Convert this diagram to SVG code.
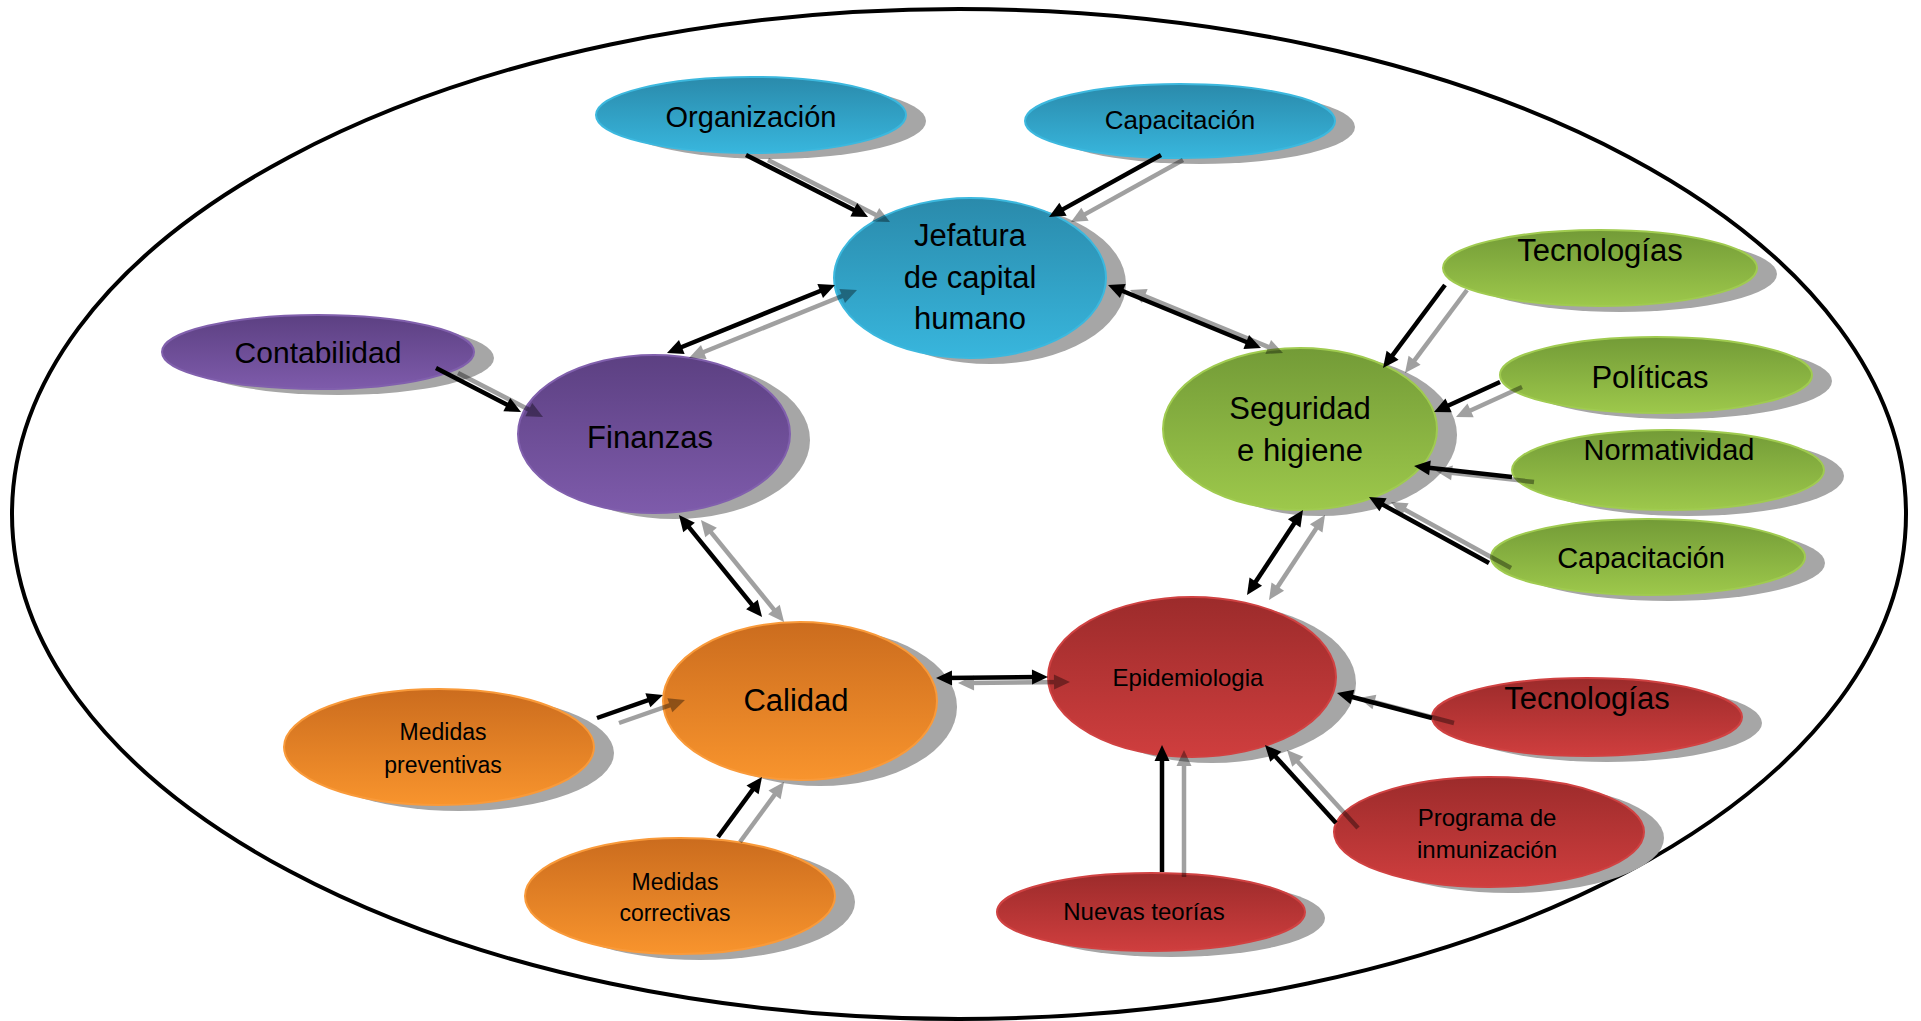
<svg xmlns="http://www.w3.org/2000/svg" xmlns:xlink="http://www.w3.org/1999/xlink" width="1921" height="1021" viewBox="0 0 1921 1021">
  <style>
    .shadow { fill: #a6a6a6; }
    .lbl { font-family: "Liberation Sans", Arial, sans-serif; fill: #000; text-anchor: middle; }
    .blue { fill: url(#gBlue); stroke: #3cb8de; stroke-width: 2; }
    .purple { fill: url(#gPurple); stroke: #8160ad; stroke-width: 2; }
    .green { fill: url(#gGreen); stroke: #a0cb50; stroke-width: 2; }
    .orange { fill: url(#gOrange); stroke: #f99a3a; stroke-width: 2; }
    .red { fill: url(#gRed); stroke: #d04242; stroke-width: 2; }
    .link { fill: none; stroke: #000; stroke-width: 4.5; }
    .one { marker-end: url(#head); }
    .two { marker-start: url(#head); marker-end: url(#head); }
  </style>
  <defs>
    <linearGradient id="gBlue" x1="0" y1="0" x2="0" y2="1">
      <stop offset="0" stop-color="#2a8aab"/>
      <stop offset="1" stop-color="#38b6dd"/>
    </linearGradient>
    <linearGradient id="gPurple" x1="0" y1="0" x2="0" y2="1">
      <stop offset="0" stop-color="#5c4082"/>
      <stop offset="1" stop-color="#7e5bab"/>
    </linearGradient>
    <linearGradient id="gGreen" x1="0" y1="0" x2="0" y2="1">
      <stop offset="0" stop-color="#739b37"/>
      <stop offset="1" stop-color="#9dc84b"/>
    </linearGradient>
    <linearGradient id="gOrange" x1="0" y1="0" x2="0" y2="1">
      <stop offset="0" stop-color="#cb6c1e"/>
      <stop offset="1" stop-color="#f8942d"/>
    </linearGradient>
    <linearGradient id="gRed" x1="0" y1="0" x2="0" y2="1">
      <stop offset="0" stop-color="#9c2b2b"/>
      <stop offset="1" stop-color="#cf3e3e"/>
    </linearGradient>
    <marker id="head" markerUnits="userSpaceOnUse" markerWidth="16" markerHeight="15" refX="8" refY="7.5" orient="auto-start-reverse" overflow="visible">
      <path d="M0,0 L16,7.5 L0,15 Z" fill="#000"/>
    </marker>
  </defs>

  <rect width="1921" height="1021" fill="#fff"/>

  <!-- outer boundary -->
  <ellipse id="frame" cx="959" cy="514" rx="947" ry="505" fill="none" stroke="#000" stroke-width="4"/>

  <!-- top: human capital branch -->
  <g id="organizacion">
    <ellipse class="shadow" cx="771" cy="121" rx="155" ry="38"/>
    <ellipse class="blue" cx="751" cy="115" rx="155" ry="38"/>
    <text class="lbl" x="751" y="127" font-size="29">Organización</text>
  </g>
  <g id="capacitacion-top">
    <ellipse class="shadow" cx="1200" cy="127" rx="155" ry="37"/>
    <ellipse class="blue" cx="1180" cy="121" rx="155" ry="37"/>
    <text class="lbl" x="1180" y="129" font-size="26">Capacitación</text>
  </g>
  <g id="jefatura">
    <ellipse class="shadow" cx="990" cy="284" rx="136" ry="80"/>
    <ellipse class="blue" cx="970" cy="278" rx="136" ry="80"/>
    <text class="lbl" x="970" y="246" font-size="31">Jefatura</text>
    <text class="lbl" x="970" y="288" font-size="31">de capital</text>
    <text class="lbl" x="970" y="329" font-size="31">humano</text>
  </g>

  <!-- left: finance branch -->
  <g id="contabilidad">
    <ellipse class="shadow" cx="338" cy="358" rx="156" ry="37"/>
    <ellipse class="purple" cx="318" cy="352" rx="156" ry="37"/>
    <text class="lbl" x="318" y="363" font-size="30">Contabilidad</text>
  </g>
  <g id="finanzas">
    <ellipse class="shadow" cx="674" cy="440" rx="136" ry="79"/>
    <ellipse class="purple" cx="654" cy="434" rx="136" ry="79"/>
    <text class="lbl" x="650" y="448" font-size="31">Finanzas</text>
  </g>

  <!-- right: safety branch -->
  <g id="seguridad">
    <ellipse class="shadow" cx="1320" cy="435" rx="137" ry="81"/>
    <ellipse class="green" cx="1300" cy="429" rx="137" ry="81"/>
    <text class="lbl" x="1300" y="419" font-size="31">Seguridad</text>
    <text class="lbl" x="1300" y="461" font-size="31">e higiene</text>
  </g>
  <g id="tecnologias-verde">
    <ellipse class="shadow" cx="1620" cy="274" rx="157" ry="38"/>
    <ellipse class="green" cx="1600" cy="268" rx="157" ry="38"/>
    <text class="lbl" x="1600" y="261" font-size="31">Tecnologías</text>
  </g>
  <g id="politicas">
    <ellipse class="shadow" cx="1676" cy="381" rx="156" ry="38"/>
    <ellipse class="green" cx="1656" cy="375" rx="156" ry="38"/>
    <text class="lbl" x="1650" y="388" font-size="31">Políticas</text>
  </g>
  <g id="normatividad">
    <ellipse class="shadow" cx="1688" cy="476" rx="156" ry="40"/>
    <ellipse class="green" cx="1668" cy="470" rx="156" ry="40"/>
    <text class="lbl" x="1669" y="460" font-size="29">Normatividad</text>
  </g>
  <g id="capacitacion-verde">
    <ellipse class="shadow" cx="1668" cy="563" rx="157" ry="38"/>
    <ellipse class="green" cx="1648" cy="557" rx="157" ry="38"/>
    <text class="lbl" x="1641" y="568" font-size="29">Capacitación</text>
  </g>

  <!-- bottom left: quality branch -->
  <g id="calidad">
    <ellipse class="shadow" cx="820" cy="707" rx="137" ry="79"/>
    <ellipse class="orange" cx="800" cy="701" rx="137" ry="79"/>
    <text class="lbl" x="796" y="711" font-size="31">Calidad</text>
  </g>
  <g id="medidas-preventivas">
    <ellipse class="shadow" cx="459" cy="753" rx="155" ry="58"/>
    <ellipse class="orange" cx="439" cy="747" rx="155" ry="58"/>
    <text class="lbl" x="443" y="740" font-size="23">Medidas</text>
    <text class="lbl" x="443" y="773" font-size="23">preventivas</text>
  </g>
  <g id="medidas-correctivas">
    <ellipse class="shadow" cx="700" cy="902" rx="155" ry="58"/>
    <ellipse class="orange" cx="680" cy="896" rx="155" ry="58"/>
    <text class="lbl" x="675" y="890" font-size="23">Medidas</text>
    <text class="lbl" x="675" y="921" font-size="23">correctivas</text>
  </g>

  <!-- bottom right: epidemiology branch -->
  <g id="epidemiologia">
    <ellipse class="shadow" cx="1212" cy="683" rx="144" ry="80"/>
    <ellipse class="red" cx="1192" cy="677" rx="144" ry="80"/>
    <text class="lbl" x="1188" y="686" font-size="24">Epidemiologia</text>
  </g>
  <g id="tecnologias-rojo">
    <ellipse class="shadow" cx="1607" cy="723" rx="155" ry="39"/>
    <ellipse class="red" cx="1587" cy="717" rx="155" ry="39"/>
    <text class="lbl" x="1587" y="709" font-size="31">Tecnologías</text>
  </g>
  <g id="programa">
    <ellipse class="shadow" cx="1509" cy="838" rx="155" ry="55"/>
    <ellipse class="red" cx="1489" cy="832" rx="155" ry="55"/>
    <text class="lbl" x="1487" y="826" font-size="24">Programa de</text>
    <text class="lbl" x="1487" y="858" font-size="24">inmunización</text>
  </g>
  <g id="nuevas-teorias">
    <ellipse class="shadow" cx="1171" cy="918" rx="154" ry="39"/>
    <ellipse class="red" cx="1151" cy="912" rx="154" ry="39"/>
    <text class="lbl" x="1144" y="920" font-size="24">Nuevas teorías</text>
  </g>

  <!-- connectors: translucent offset copies first, then the solid arrows -->
  <g id="connectors">
    <g id="connector-shadows" opacity="0.37" transform="translate(22,5)">
      <use xlink:href="#c-org-jef"/>
      <use xlink:href="#c-cap-jef"/>
      <use xlink:href="#c-jef-fin"/>
      <use xlink:href="#c-jef-seg"/>
      <use xlink:href="#c-con-fin"/>
      <use xlink:href="#c-fin-cal"/>
      <use xlink:href="#c-tec-seg"/>
      <use xlink:href="#c-pol-seg"/>
      <use xlink:href="#c-nor-seg"/>
      <use xlink:href="#c-capv-seg"/>
      <use xlink:href="#c-seg-epi"/>
      <use xlink:href="#c-mp-cal"/>
      <use xlink:href="#c-mc-cal"/>
      <use xlink:href="#c-cal-epi"/>
      <use xlink:href="#c-tecr-epi"/>
      <use xlink:href="#c-pro-epi"/>
      <use xlink:href="#c-nue-epi"/>
    </g>
    <g id="connector-lines">
      <path id="c-org-jef" class="link one" d="M746,155 L860.9,213.4"/>
      <path id="c-cap-jef" class="link one" d="M1161,155 L1056,213.1"/>
      <path id="c-jef-fin" class="link two" d="M827.6,288 L674.4,350"/>
      <path id="c-jef-seg" class="link two" d="M1115.4,288 L1253.6,345"/>
      <path id="c-con-fin" class="link one" d="M436,368 L513.9,408.3"/>
      <path id="c-fin-cal" class="link two" d="M684,521.2 L757,610.8"/>
      <path id="c-tec-seg" class="link one" d="M1445,285 L1387.8,361.6"/>
      <path id="c-pol-seg" class="link one" d="M1500,382 L1441.3,408.7"/>
      <path id="c-nor-seg" class="link one" d="M1512,477 L1422,467"/>
      <path id="c-capv-seg" class="link one" d="M1489,563 L1376,500.9"/>
      <path id="c-seg-epi" class="link two" d="M1298.6,516.7 L1251.4,588.3"/>
      <path id="c-mp-cal" class="link one" d="M597,718 L655.4,697.6"/>
      <path id="c-mc-cal" class="link one" d="M718,837 L757.3,783.4"/>
      <path id="c-cal-epi" class="link two" d="M944,678 L1040,677"/>
      <path id="c-tecr-epi" class="link one" d="M1432,718 L1344.7,695"/>
      <path id="c-pro-epi" class="link one" d="M1336,823 L1270.4,750.9"/>
      <path id="c-nue-epi" class="link one" d="M1162,872 L1162,753"/>
    </g>
  </g>
</svg>
